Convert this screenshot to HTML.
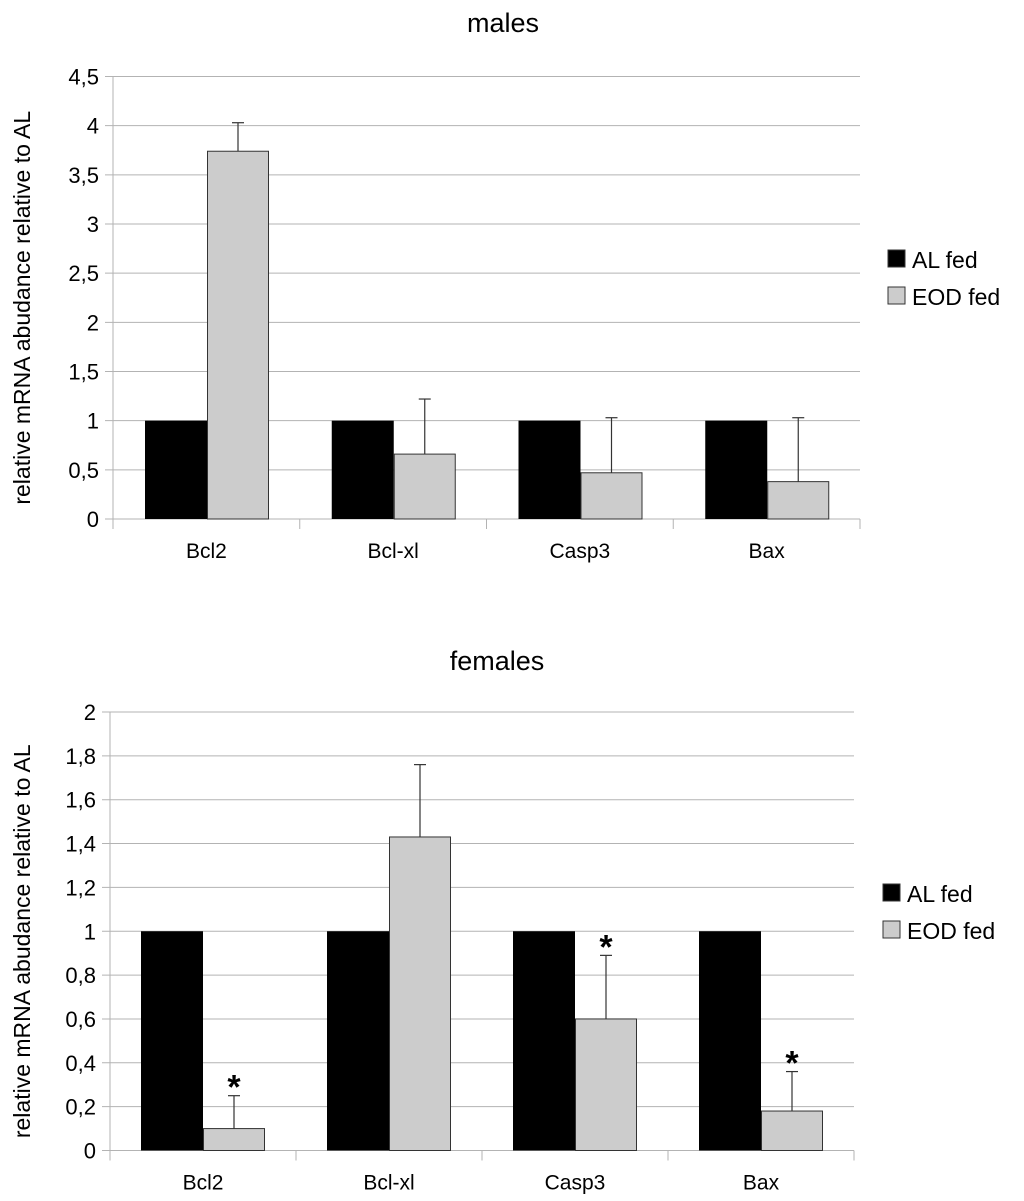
<!DOCTYPE html>
<html><head><meta charset="utf-8"><style>
html,body{margin:0;padding:0;background:#fff;}
svg{display:block;font-family:"Liberation Sans",Arial,sans-serif;}
</style></head><body>
<svg id="svg" width="1024" height="1201" viewBox="0 0 1024 1201"></svg>
<script>
const categories = ["Bcl2","Bcl-xl","Casp3","Bax"];
const malesAL = [1,1,1,1];
const malesEOD = [3.74,0.66,0.47,0.38];
const malesEODErr = [0.29,0.56,0.56,0.65];
const malesTicks = ["0","0,5","1","1,5","2","2,5","3","3,5","4","4,5"];
const femalesAL = [1,1,1,1];
const femalesEOD = [0.10,1.43,0.60,0.18];
const femalesEODErr = [0.15,0.33,0.29,0.18];
const femalesStars = [true,false,true,true];
const femalesTicks = ["0","0,2","0,4","0,6","0,8","1","1,2","1,4","1,6","1,8","2"];

const NS="http://www.w3.org/2000/svg";
const svg=document.getElementById('svg');
function mk(tag,attrs,parent){const e=document.createElementNS(NS,tag);for(const k in attrs)e.setAttribute(k,attrs[k]);(parent||svg).appendChild(e);return e;}

function drawChart(cfg){
  const g=mk('g',{});
  
  
  const {x0,x1,y0,y1,max,step}=cfg;
  const yS=v=>y0-(v/max)*(y0-y1);
  const cw=(x1-x0)/categories.length;
  const t=mk('text',{x:cfg.titleX,y:cfg.titleY,'font-size':27,'text-anchor':'middle',fill:'#000'},g);
  t.textContent=cfg.title;
  
  
  cfg.ticks.forEach((lab,i)=>{
    const v=i*step,y=yS(v);
    const l=mk('line',{x1:x0-8,x2:x1,y1:y,y2:y,stroke:'#b3b3b3','stroke-width':1},g);
    
    
    const tx=mk('text',{x:x0-14,y:y+8,'font-size':22,'text-anchor':'end',fill:'#000'},g);
    tx.textContent=lab;
    
    
  });
  const ax=mk('line',{x1:x0,x2:x0,y1:y1,y2:y0+10,stroke:'#b3b3b3','stroke-width':1},g);
  
  
  for(let i=1;i<=categories.length;i++){
    const tk=mk('line',{x1:x0+i*cw,x2:x0+i*cw,y1:y0,y2:y0+10,stroke:'#b3b3b3'},g);
    
    
  }
  const yt=mk('text',{x:0,y:0,'font-size':23,'text-anchor':'middle',fill:'#000',transform:`translate(${cfg.ytX},${(y0+y1)/2+10}) rotate(-90)`},g);
  yt.textContent='relative mRNA abudance relative to AL';
  
  
  categories.forEach((c,i)=>{
    const cx=x0+i*cw, bx=cx+cfg.off, bw=62;
    const b1=mk('rect',{x:bx,y:yS(cfg.al[i]),width:bw,height:y0-yS(cfg.al[i]),fill:'#000'},g);
    
    
    const ev=cfg.eod[i],ee=ev+cfg.err[i];
    const ex=bx+bw+bw/2;
    const el=mk('line',{x1:ex,x2:ex,y1:yS(ee),y2:yS(ev),stroke:'#333','stroke-width':1.2},g);
    
    
    const ec=mk('line',{x1:ex-6,x2:ex+6,y1:yS(ee),y2:yS(ee),stroke:'#333','stroke-width':1.2},g);
    
    
    const b2=mk('rect',{x:bx+bw+0.5,y:yS(ev),width:bw-1,height:y0-yS(ev),fill:'#cccccc',stroke:'#333','stroke-width':1},g);
    
    
    if(cfg.stars&&cfg.stars[i]){
      const s=mk('text',{x:ex,y:yS(ee)+3,'font-size':34,'font-weight':'bold','text-anchor':'middle',fill:'#000'},g);
      s.textContent='*';
      
      
    }
    const cl=mk('text',{x:cx+cw/2,y:y0+39,'font-size':21,'text-anchor':'middle',fill:'#000'},g);
    cl.textContent=c;
    
    
  });
  const lg=mk('g',{},g);
  
  
  [['AL fed','#000'],['EOD fed','#cccccc']].forEach((it,i)=>{
    const y=cfg.legY+i*37;
    const r=mk('rect',{x:cfg.legX,y:y,width:17,height:17,fill:it[1],stroke:'#333','stroke-width':1},lg);
    
    
    const tx=mk('text',{x:cfg.legX+24,y:y+18,'font-size':23,fill:'#000'},lg);
    tx.textContent=it[0];
    
    
  });
}
drawChart({name:'males-chart',title:'males',titleX:503,titleY:32,x0:113,x1:860,y0:519,y1:76.5,max:4.5,step:0.5,ticks:malesTicks,al:malesAL,eod:malesEOD,err:malesEODErr,off:32,ytX:30,legX:888,legY:250});
drawChart({name:'females-chart',title:'females',titleX:497,titleY:670,x0:110,x1:854,y0:1150.5,y1:712,max:2,step:0.2,ticks:femalesTicks,al:femalesAL,eod:femalesEOD,err:femalesEODErr,stars:femalesStars,off:31,ytX:30,legX:883,legY:884});
</script>
</body></html>
